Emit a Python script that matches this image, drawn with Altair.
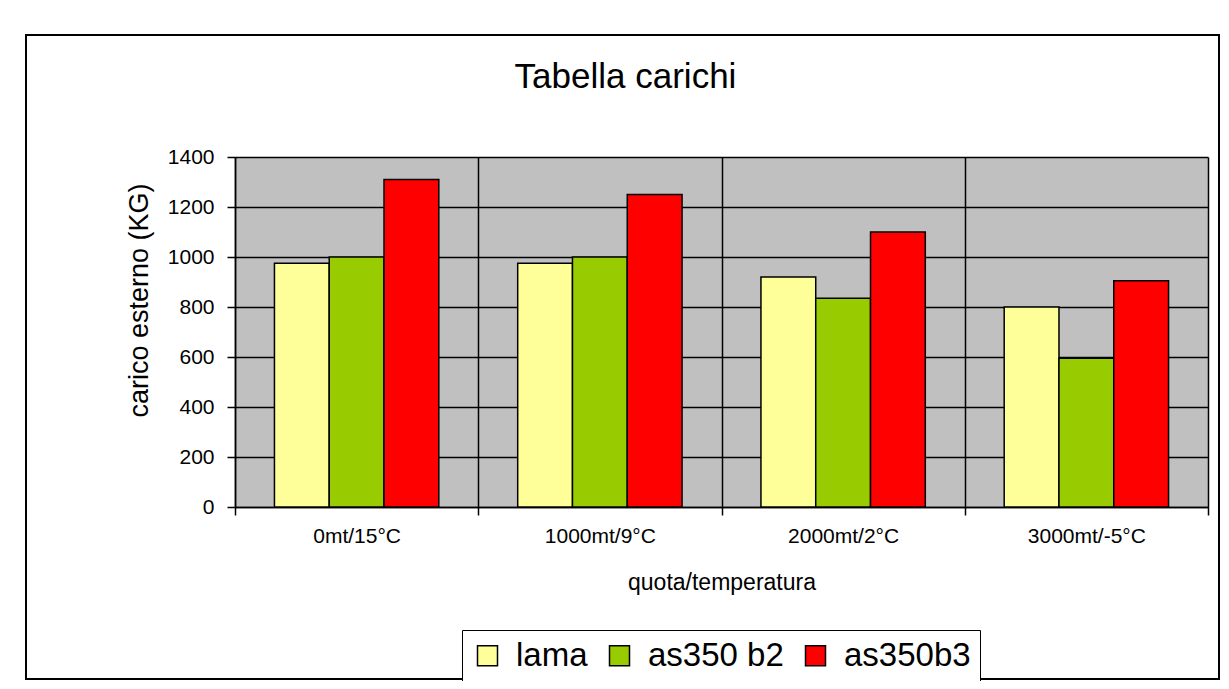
import altair as alt
import pandas as pd

categories = ["0mt/15°C", "1000mt/9°C", "2000mt/2°C", "3000mt/-5°C"]
series = ["lama", "as350 b2", "as350b3"]
lama = [975, 975, 920, 800]
as350_b2 = [1000, 1000, 835, 595]
as350b3 = [1310, 1250, 1100, 905]
colors = ["#FFFF99", "#99CC00", "#FF0000"]

rows = []
for name, vals in zip(series, [lama, as350_b2, as350b3]):
    for c, v in zip(categories, vals):
        rows.append({"cat": c, "serie": name, "val": v})
df = pd.DataFrame(rows)

FONT = "Liberation Sans"

bars = alt.Chart(df).mark_bar(stroke="black", strokeWidth=1.5).encode(
    x=alt.X("cat:N", sort=categories,
            scale=alt.Scale(paddingInner=0, paddingOuter=0),
            axis=alt.Axis(title="quota/temperatura", labelAngle=0, tickBand="extent",
                          grid=True, gridColor="black", gridWidth=1.5, gridOpacity=1,
                          domainColor="black", domainWidth=1.5, tickColor="black",
                          tickWidth=1.5, tickSize=8, labelFontSize=21, labelFont=FONT,
                          labelColor="black", labelPadding=10, titleFont=FONT,
                          titleFontSize=23, titleFontWeight="normal", titleColor="black",
                          titleY=75, titleBaseline="middle")),
    xOffset=alt.XOffset("serie:N", sort=series,
                        scale=alt.Scale(paddingInner=0, paddingOuter=0.72)),
    y=alt.Y("val:Q", scale=alt.Scale(domain=[0, 1400], nice=False),
            axis=alt.Axis(title="carico esterno (KG)", values=list(range(0, 1401, 200)),
                          format="d",
                          grid=True, gridColor="black", gridWidth=1.5, gridOpacity=1,
                          domainColor="black", domainWidth=1.5, tickColor="black",
                          tickWidth=1.5, tickSize=8, labelFontSize=21, labelFont=FONT,
                          labelColor="black", labelPadding=13, titleFont=FONT,
                          titleFontSize=27, titleFontWeight="normal", titleColor="black",
                          titleX=-96, titleY=143, titleAngle=270, titleBaseline="middle",
                          titleAlign="center")),
    color=alt.Color("serie:N", sort=series,
                    scale=alt.Scale(domain=series, range=colors),
                    legend=alt.Legend(title=None, orient="none", legendX=227, legendY=473,
                                      direction="horizontal", columns=3,
                                      strokeColor="black", fillColor="white",
                                      padding=9, symbolType="square", symbolSize=400,
                                      symbolStrokeColor="black", symbolStrokeWidth=1.5,
                                      labelFontSize=33, labelFont=FONT, labelColor="black",
                                      labelOffset=12, columnPadding=15,
                                      labelLimit=400)),
)

border = alt.Chart(alt.Data(values=[{"k": 1}])).mark_rect(
    fill=None, stroke="black", strokeWidth=2
).encode(
    x=alt.value(-209), x2=alt.value(984), y=alt.value(-122), y2=alt.value(522)
)

chart = alt.layer(bars, border).properties(
    width=973, height=350,
    background="white",
    title=alt.TitleParams("Tabella carichi", fontSize=35, font=FONT, fontWeight="normal",
                          color="black", anchor="middle", dx=-96, offset=-89,
                          baseline="alphabetic"),
    autosize=alt.AutoSizeParams(type="none"),
    padding={"left": 227, "top": 149, "right": 13, "bottom": 174},
).configure_view(fill="#C0C0C0", stroke=None)

chart.save("out.html", embed_options={"renderer": "svg", "actions": False})
